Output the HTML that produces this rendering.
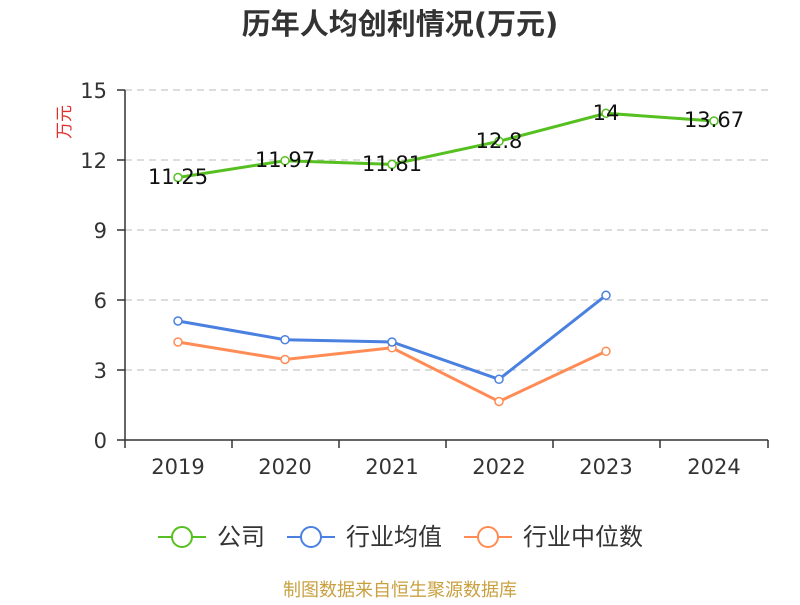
<!DOCTYPE html>
<html><head><meta charset="utf-8"><style>body{margin:0;background:#fff}</style></head><body>
<svg width="800" height="600" xmlns="http://www.w3.org/2000/svg" font-family="DejaVu Sans, Noto Sans CJK SC, sans-serif">
<text x="400" y="34" text-anchor="middle" font-size="29" font-weight="bold" fill="#333">历年人均创利情况(万元)</text>
<text x="70" y="122" text-anchor="middle" font-size="17" fill="#e03030" transform="rotate(-90 70 122)">万元</text>
<g stroke="#bbb" stroke-dasharray="7,5" stroke-width="1">
<line x1="125" x2="768" y1="90" y2="90"/><line x1="125" x2="768" y1="160" y2="160"/><line x1="125" x2="768" y1="230" y2="230"/><line x1="125" x2="768" y1="300" y2="300"/><line x1="125" x2="768" y1="370" y2="370"/>
</g>
<g stroke="#333" stroke-width="1.5">
<line x1="125" x2="125" y1="90" y2="440"/><line x1="125" x2="768" y1="440" y2="440"/>
<line x1="117" x2="125" y1="90" y2="90"/><line x1="117" x2="125" y1="160" y2="160"/><line x1="117" x2="125" y1="230" y2="230"/><line x1="117" x2="125" y1="300" y2="300"/><line x1="117" x2="125" y1="370" y2="370"/><line x1="117" x2="125" y1="440" y2="440"/>
<line x1="125" x2="125" y1="440" y2="448"/><line x1="232" x2="232" y1="440" y2="448"/><line x1="339" x2="339" y1="440" y2="448"/><line x1="446" x2="446" y1="440" y2="448"/><line x1="553" x2="553" y1="440" y2="448"/><line x1="660" x2="660" y1="440" y2="448"/><line x1="768" x2="768" y1="440" y2="448"/>
</g>
<g font-size="21" fill="#333" text-anchor="end">
<text x="107" y="98">15</text><text x="107" y="168">12</text><text x="107" y="238">9</text><text x="107" y="308">6</text><text x="107" y="378">3</text><text x="107" y="448">0</text>
</g>
<g font-size="21" fill="#333" text-anchor="middle">
<text x="178" y="474">2019</text><text x="285" y="474">2020</text><text x="392" y="474">2021</text><text x="499" y="474">2022</text><text x="606" y="474">2023</text><text x="714" y="474">2024</text>
</g>
<g fill="none" stroke-width="3">
<polyline stroke="#ff8c55" points="178,342 285,359.5 392,347.8 499,401.5 606,351.3"/>
<polyline stroke="#4a80e0" points="178,321 285,339.7 392,342 499,379.3 606,295.3"/>
<polyline stroke="#55c020" points="178,177.5 285,160.7 392,164.4 499,141.3 606,113.3 714,121"/>
</g>
<g fill="#fff" stroke-width="1.5">
<g stroke="#ff8c55"><circle cx="178" cy="342" r="4"/><circle cx="285" cy="359.5" r="4"/><circle cx="392" cy="347.8" r="4"/><circle cx="499" cy="401.5" r="4"/><circle cx="606" cy="351.3" r="4"/></g>
<g stroke="#4a80e0"><circle cx="178" cy="321" r="4"/><circle cx="285" cy="339.7" r="4"/><circle cx="392" cy="342" r="4"/><circle cx="499" cy="379.3" r="4"/><circle cx="606" cy="295.3" r="4"/></g>
<g stroke="#55c020"><circle cx="178" cy="177.5" r="4"/><circle cx="285" cy="160.7" r="4"/><circle cx="392" cy="164.4" r="4"/><circle cx="499" cy="141.3" r="4"/><circle cx="606" cy="113.3" r="4"/><circle cx="714" cy="121" r="4"/></g>
</g>
<g font-size="21" fill="#111" text-anchor="middle">
<text x="178" y="184">11.25</text><text x="285" y="167">11.97</text><text x="392" y="171">11.81</text><text x="499" y="148">12.8</text><text x="606" y="120">14</text><text x="714" y="127">13.67</text>
</g>
<g stroke-width="2" fill="#fff">
<line x1="158" x2="206" y1="537" y2="537" stroke="#55c020"/><circle cx="182" cy="537" r="10" stroke="#55c020"/>
<line x1="287" x2="335" y1="537" y2="537" stroke="#4a80e0"/><circle cx="311" cy="537" r="10" stroke="#4a80e0"/>
<line x1="464" x2="512" y1="537" y2="537" stroke="#ff8c55"/><circle cx="488" cy="537" r="10" stroke="#ff8c55"/>
</g>
<g font-size="24" fill="#333">
<text x="217" y="545">公司</text><text x="346" y="545">行业均值</text><text x="523" y="545">行业中位数</text>
</g>
<text x="400" y="596" text-anchor="middle" font-size="18" fill="#c8a040">制图数据来自恒生聚源数据库</text>
</svg>
</body></html>
